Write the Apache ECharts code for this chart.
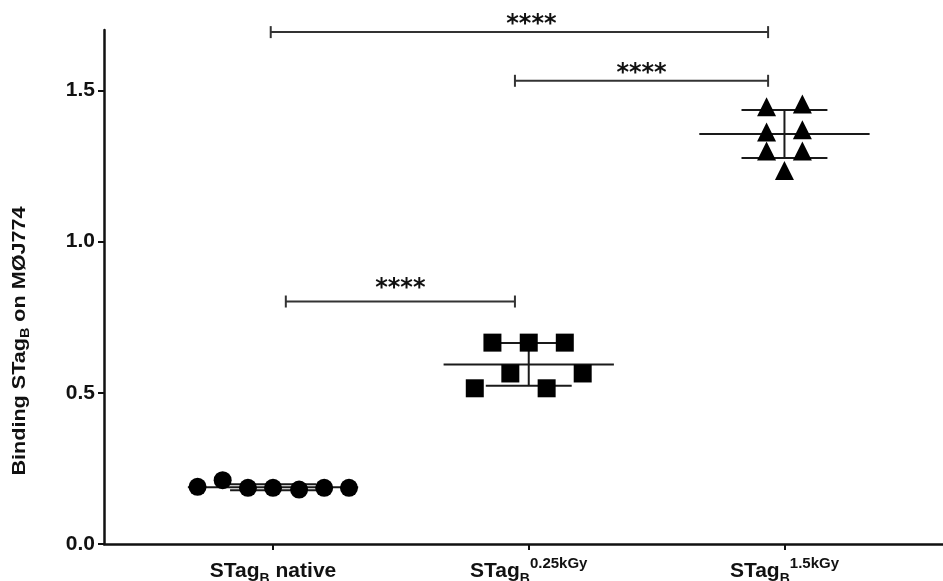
<!DOCTYPE html>
<html>
<head>
<meta charset="utf-8">
<script src="https://cdn.jsdelivr.net/npm/echarts@6/dist/echarts.min.js"></script>
<style>html,body{margin:0;padding:0;background:#fff}#chart{width:943px;height:581px}</style>
</head>
<body>
<div id="chart"></div>
<script>
// group centres on the x axis and their labels
var groupX = [1, 2, 3];
var groupSup = ['', '0.25kGy', '1.5kGy'];
var groupTail = [' native', '', ''];
var yTicks = [0, 0.5, 1.0, 1.5];

// individual points: horizontal jitter (axis units) and value
var nativeJitter = [-0.295, -0.197, -0.098, 0, 0.102, 0.2, 0.297];
var nativeVals = [0.189, 0.211, 0.186, 0.186, 0.180, 0.186, 0.186];
var lowJitter = [-0.211, -0.142, -0.072, 0, 0.070, 0.141, 0.211];
var lowVals = [0.515, 0.666, 0.564, 0.666, 0.515, 0.666, 0.564];
var highJitter = [-0.070, -0.070, -0.070, 0, 0.070, 0.070, 0.070];
var highVals = [1.446, 1.363, 1.300, 1.235, 1.455, 1.370, 1.300];

// mean +/- SD per group
var means = [0.188, 0.594, 1.356];
var sds = [0.010, 0.071, 0.079];

// significance brackets
var bracketFrom = [0.991, 1.946, 1.050];
var bracketTo = [2.936, 2.936, 1.946];
var bracketY = [1.693, 1.532, 0.802];
var bracketText = ['****', '****', '****'];

var FONT = 'Liberation Sans, Arial, sans-serif';
// how far the stars sit above each bracket line (px) and horizontal nudge
var starLift = [12, 12, 18];
var starShift = [12, 0, 0];

function pts(g, jit, vals) {
    return vals.map(function (v, i) { return [groupX[g] + jit[i], v]; });
}

var errData = means.map(function (m, i) { return [groupX[i], m, sds[i]]; });
var brData = bracketY.map(function (y, i) { return [bracketFrom[i], bracketTo[i], y, i]; });

var chart = echarts.init(document.getElementById('chart'));
chart.setOption({
    animation: false,
    grid: { left: 104, right: 0, top: 30, bottom: 37, outerBoundsMode: 'none', containLabel: false },
    xAxis: {
        type: 'value',
        min: 0.339,
        max: 3.62,
        splitLine: { show: false },
        axisLine: { lineStyle: { color: '#111', width: 2.5 } },
        axisTick: { customValues: groupX, length: 6, lineStyle: { color: '#111', width: 2 } },
        axisLabel: {
            customValues: groupX,
            margin: 12,
            formatter: function (v) {
                var i = groupX.indexOf(Math.round(v));
                var s = '{m|STag}{sub|B}';
                if (groupSup[i]) s += '{sup|' + groupSup[i] + '}';
                if (groupTail[i]) s += '{m|' + groupTail[i] + '}';
                return s;
            },
            rich: {
                m: { fontFamily: FONT, fontWeight: 'bold', fontSize: 21, color: '#111', lineHeight: 30, verticalAlign: 'middle' },
                sub: { fontFamily: FONT, fontWeight: 'bold', fontSize: 14, color: '#111', lineHeight: 16, verticalAlign: 'bottom' },
                sup: { fontFamily: FONT, fontWeight: 'bold', fontSize: 15, color: '#111', lineHeight: 22, verticalAlign: 'top' }
            }
        }
    },
    yAxis: {
        type: 'value',
        min: 0,
        max: 1.7,
        splitLine: { show: false },
        axisLine: { show: true, lineStyle: { color: '#111', width: 2.5 } },
        axisTick: { show: true, customValues: yTicks, length: 6, lineStyle: { color: '#111', width: 2 } },
        axisLabel: {
            customValues: yTicks,
            margin: 9,
            fontFamily: FONT, fontWeight: 'bold', fontSize: 21, color: '#111',
            formatter: function (v) { return v.toFixed(1); }
        }
    },
    graphic: [{
        type: 'text',
        x: 20,
        y: 341,
        rotation: Math.PI / 2,
        scaleX: 1.2,
        style: {
            text: '{m|Binding STag}{sub|B}{m| on MØJ774}',
            align: 'center',
            verticalAlign: 'middle',
            rich: {
                m: { fontFamily: FONT, fontWeight: 'bold', fontSize: 18, fill: '#111', lineHeight: 24, verticalAlign: 'middle' },
                sub: { fontFamily: FONT, fontWeight: 'bold', fontSize: 12, fill: '#111', lineHeight: 14, verticalAlign: 'bottom' }
            }
        }
    }],
    series: [
        {
            type: 'custom',
            name: 'err',
            z: 1,
            encode: { x: 0, y: [1, 2] },
            data: errData,
            renderItem: function (params, api) {
                var x = api.value(0), m = api.value(1), s = api.value(2);
                var st = { stroke: '#1a1a1a', lineWidth: 2 };
                function seg(x1, y1, x2, y2) {
                    var a = api.coord([x1, y1]), b = api.coord([x2, y2]);
                    return { type: 'line', shape: { x1: a[0], y1: a[1], x2: b[0], y2: b[1] }, style: st };
                }
                return {
                    type: 'group',
                    children: [
                        seg(x - 0.333, m, x + 0.333, m),
                        seg(x - 0.168, m + s, x + 0.168, m + s),
                        seg(x - 0.168, m - s, x + 0.168, m - s),
                        seg(x, m - s, x, m + s)
                    ]
                };
            }
        },
        {
            type: 'custom',
            name: 'brackets',
            z: 1,
            encode: { x: [0, 1], y: 2 },
            data: brData,
            renderItem: function (params, api) {
                var k = api.value(3);
                var a = api.coord([api.value(0), api.value(2)]);
                var b = api.coord([api.value(1), api.value(2)]);
                var st = { stroke: '#333', lineWidth: 2 };
                return {
                    type: 'group',
                    children: [
                        { type: 'line', shape: { x1: a[0], y1: a[1], x2: b[0], y2: b[1] }, style: st },
                        { type: 'line', shape: { x1: a[0], y1: a[1] - 6, x2: a[0], y2: a[1] + 6 }, style: st },
                        { type: 'line', shape: { x1: b[0], y1: b[1] - 6, x2: b[0], y2: b[1] + 6 }, style: st },
                        {
                            type: 'text',
                            style: {
                                text: bracketText[k],
                                x: (a[0] + b[0]) / 2 + starShift[k],
                                y: a[1] - starLift[k] + 17,
                                align: 'center',
                                verticalAlign: 'bottom',
                                fontFamily: 'DejaVu Sans, sans-serif',
                                fontWeight: 'bold',
                                fontSize: 24,
                                fill: '#111'
                            }
                        }
                    ]
                };
            }
        },
        {
            type: 'scatter', name: 'native', z: 3,
            symbol: 'circle', symbolSize: 18,
            itemStyle: { color: '#000', opacity: 1 },
            data: pts(0, nativeJitter, nativeVals)
        },
        {
            type: 'scatter', name: '0.25kGy', z: 3,
            symbol: 'rect', symbolSize: 18,
            itemStyle: { color: '#000', opacity: 1 },
            data: pts(1, lowJitter, lowVals)
        },
        {
            type: 'scatter', name: '1.5kGy', z: 3,
            symbol: 'triangle', symbolSize: 19,
            itemStyle: { color: '#000', opacity: 1 },
            data: pts(2, highJitter, highVals)
        }
    ]
});
</script>
</body>
</html>
